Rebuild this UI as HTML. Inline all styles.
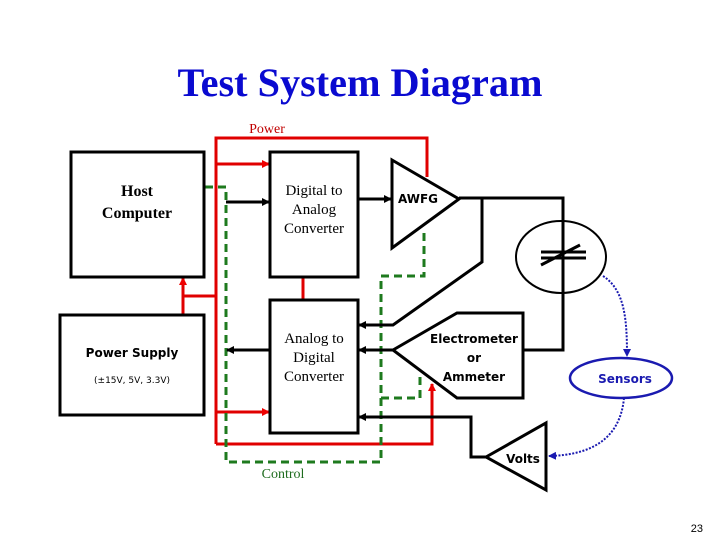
<!DOCTYPE html>
<html><head><meta charset="utf-8"><style>
html,body{margin:0;padding:0;background:#fff;}
svg{display:block;}
</style></head><body>
<svg width="720" height="540" viewBox="0 0 720 540" xmlns="http://www.w3.org/2000/svg">
<defs>
<marker id="ab" markerWidth="8" markerHeight="8" refX="7" refY="4" orient="auto" markerUnits="userSpaceOnUse"><path d="M0,0 L8,4 L0,8 z" fill="#000"/></marker>
<marker id="ar" markerWidth="8" markerHeight="8" refX="7" refY="4" orient="auto" markerUnits="userSpaceOnUse"><path d="M0,0 L8,4 L0,8 z" fill="#e00"/></marker>
<marker id="abl" markerWidth="8" markerHeight="8" refX="7" refY="4" orient="auto" markerUnits="userSpaceOnUse"><path d="M0,0 L8,4 L0,8 z" fill="#1a1ab0"/></marker>
</defs>
<text x="360" y="96" text-anchor="middle" font-family="Liberation Serif, serif" font-weight="bold" font-size="40" fill="#0a0ad0" textLength="365" lengthAdjust="spacingAndGlyphs">Test System Diagram</text>
<text x="267" y="133" text-anchor="middle" font-family="Liberation Serif, serif" font-size="14" fill="#c00000">Power</text>
<text x="283" y="478" text-anchor="middle" font-family="Liberation Serif, serif" font-size="14" fill="#1e6b1e">Control</text>
<text x="703" y="532" text-anchor="end" font-family="Liberation Sans, sans-serif" font-size="11" fill="#000">23</text>

<g stroke="#e00000" stroke-width="3" fill="none">
<polyline points="216,444 216,138 427,138 427,177"/>
<line x1="216" y1="164" x2="269" y2="164" marker-end="url(#ar)"/>
<line x1="216" y1="412" x2="269" y2="412" marker-end="url(#ar)"/>
<polyline points="216,296 183,296 183,315"/>
<line x1="183" y1="300" x2="183" y2="278" marker-end="url(#ar)"/>
<polyline points="216,444 432,444 432,384" marker-end="url(#ar)"/>
<line x1="303" y1="277" x2="303" y2="300"/>
</g>
<g stroke="#1e7a1e" stroke-width="3" fill="none" stroke-dasharray="8,5">
<polyline points="205,187 226,187 226,462 381,462 381,276 424,276 424,232"/>
<polyline points="381,398 420,398 420,372"/>
</g>
<ellipse cx="561" cy="257" rx="45" ry="36" fill="none" stroke="#000" stroke-width="2"/>
<g stroke="#000" stroke-width="3" fill="none">
<rect x="71" y="152" width="133" height="125"/>
<rect x="60" y="315" width="144" height="100"/>
<rect x="270" y="152" width="88" height="125"/>
<rect x="270" y="300" width="88" height="133"/>
<line x1="226" y1="202" x2="269" y2="202" marker-end="url(#ab)"/>
<line x1="358" y1="199" x2="391" y2="199" marker-end="url(#ab)"/>
<line x1="270" y1="350" x2="227" y2="350" marker-end="url(#ab)"/>
<polygon points="392,160 459,199 392,248" fill="#fff"/>
<polyline points="459,198 563,198 563,350 523,350"/>
<line x1="563" y1="214" x2="563" y2="300"/>
<polyline points="482,198 482,262 393,325 359,325" marker-end="url(#ab)"/>
<polygon points="393,350 457,313 523,313 523,398 457,398"/>
<line x1="393" y1="350" x2="359" y2="350" marker-end="url(#ab)"/>
<polygon points="486,457 546,423 546,490" fill="#fff"/>
<polyline points="486,457 471,457 471,417 359,417" marker-end="url(#ab)"/>
<line x1="541" y1="252" x2="586" y2="252"/>
<line x1="541" y1="258" x2="586" y2="258"/>
<line x1="541" y1="265" x2="580" y2="245"/>
</g>
<ellipse cx="621" cy="378" rx="51" ry="20" fill="#fff" stroke="#1a1ab0" stroke-width="2.5"/>
<g stroke="#1a1ab0" stroke-width="2" fill="none" stroke-dasharray="2,1.5">
<path d="M603,276 C625,290 627,320 627,356" marker-end="url(#abl)"/>
<path d="M624,398 C620,440 590,455 549,456" marker-end="url(#abl)"/>
</g>
<g font-family="Liberation Serif, serif" font-size="15" text-anchor="middle" fill="#000">
<text x="137" y="196" font-weight="bold" font-size="16">Host</text>
<text x="137" y="218" font-weight="bold" font-size="16">Computer</text>
<text x="314" y="195">Digital to</text>
<text x="314" y="214">Analog</text>
<text x="314" y="233">Converter</text>
<text x="314" y="343">Analog to</text>
<text x="314" y="362">Digital</text>
<text x="314" y="381">Converter</text>
</g>
<g font-family="DejaVu Sans, sans-serif" text-anchor="middle" fill="#000" font-weight="bold">
<text x="132" y="357" font-size="12">Power Supply</text>
<text x="132" y="383" font-size="9" font-weight="normal">(±15V, 5V, 3.3V)</text>
<text x="418" y="203" font-size="12">AWFG</text>
<text x="474" y="343" font-size="12">Electrometer</text>
<text x="474" y="362" font-size="12">or</text>
<text x="474" y="381" font-size="12">Ammeter</text>
<text x="523" y="463" font-size="12">Volts</text>
<text x="625" y="383" font-size="12" fill="#1a1ab0">Sensors</text>
</g>
</svg>
</body></html>
